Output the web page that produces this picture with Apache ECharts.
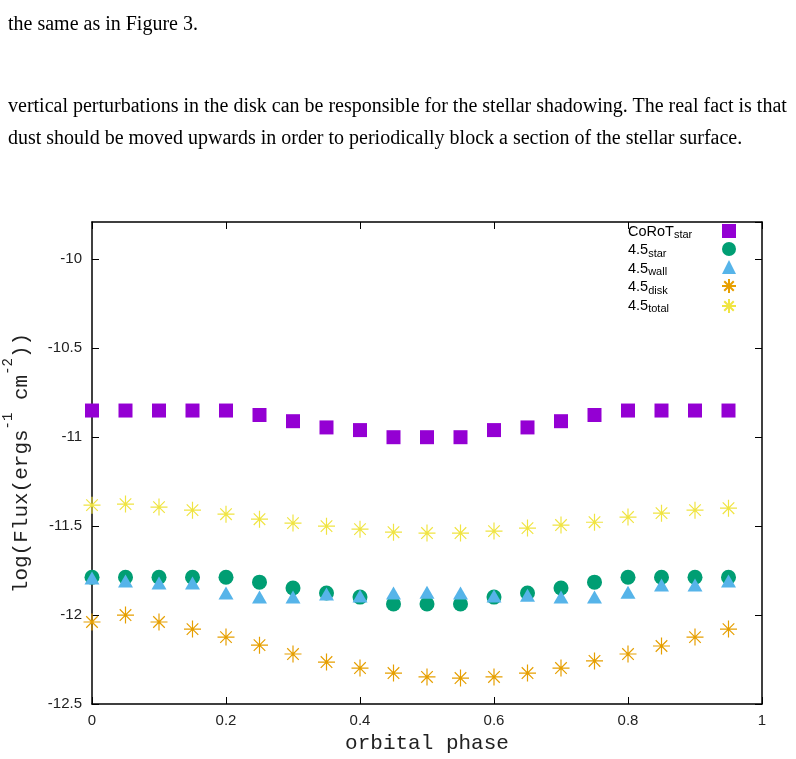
<!DOCTYPE html>
<html>
<head>
<meta charset="utf-8">
<script src="https://cdn.jsdelivr.net/npm/echarts@6/dist/echarts.min.js"></script>
<style>
  html, body { margin: 0; padding: 0; background: #fff; }
  #wrap { position: relative; width: 796px; height: 759px; overflow: hidden; }
  #chart { position: absolute; left: 0; top: 0; width: 796px; height: 759px; }
  .txt { position: absolute; left: 8px; font-family: 'Liberation Serif', 'Times New Roman', serif;
         font-size: 20px; color: #000; white-space: nowrap; line-height: 20px; }
</style>
</head>
<body>
<div id="wrap">
  <div id="chart"></div>
  <div class="txt" style="top:13px">the same as in Figure 3.</div>
  <div class="txt" style="top:95px">vertical perturbations in the disk can be responsible for the stellar shadowing. The real fact is that</div>
  <div class="txt" style="top:127px">dust should be moved upwards in order to periodically block a section of the stellar surface.</div>
</div>
<script>
document.addEventListener('DOMContentLoaded', function () {

    // orbital phase (x)
    const phase = [0, 0.05, 0.1, 0.15, 0.2, 0.25, 0.3, 0.35, 0.4, 0.45,
                   0.5, 0.55, 0.6, 0.65, 0.7, 0.75, 0.8, 0.85, 0.9, 0.95];

    // log flux values
    const corotStar = [-10.85, -10.85, -10.85, -10.85, -10.85, -10.875, -10.91, -10.945, -10.96, -11.0,
                       -11.0, -11.0, -10.96, -10.945, -10.91, -10.875, -10.85, -10.85, -10.85, -10.85];
    const star45 = [-11.787, -11.787, -11.787, -11.787, -11.787, -11.815, -11.848, -11.876, -11.899, -11.938,
                    -11.938, -11.938, -11.899, -11.876, -11.848, -11.815, -11.787, -11.787, -11.787, -11.787];
    const wall45 = [-11.792, -11.809, -11.82, -11.82, -11.876, -11.899, -11.899, -11.882, -11.893, -11.876,
                    -11.871, -11.876, -11.893, -11.888, -11.899, -11.899, -11.871, -11.831, -11.831, -11.809];
    const disk45 = [-12.039, -12.0, -12.039, -12.079, -12.124, -12.169, -12.219, -12.264, -12.298, -12.326,
                    -12.348, -12.354, -12.348, -12.326, -12.298, -12.258, -12.219, -12.174, -12.124, -12.079];
    const total45 = [-11.382, -11.376, -11.393, -11.41, -11.433, -11.461, -11.483, -11.5, -11.517, -11.534,
                     -11.539, -11.539, -11.528, -11.511, -11.494, -11.478, -11.449, -11.427, -11.41, -11.399];

    // legend labels: main text + subscript
    const legendMain = ['CoRoT', '4.5', '4.5', '4.5', '4.5'];
    const legendSub = ['star', 'star', 'wall', 'disk', 'total'];

    const xTicks = [0, 0.2, 0.4, 0.6, 0.8, 1];
    const yTicks = [-12.5, -12, -11.5, -11, -10.5, -10];

    const colors = ['#9400d3', '#009e73', '#56b4e9', '#e69f00', '#f0e442'];
    const asterisk = 'path://M0,5L10,5M5,0L5,10M1.6,1.6L8.4,8.4M1.6,8.4L8.4,1.6';

    const names = legendMain.map((m, i) => m + '_' + legendSub[i]);
    const values = [corotStar, star45, wall45, disk45, total45];
    const pairs = v => phase.map((p, i) => [p, v[i]]);

    const chart = echarts.init(document.getElementById('chart'));

    const sans = 'Liberation Sans, Arial, sans-serif';
    const mono = 'Liberation Mono, Courier New, monospace';

    // fresh objects for each axis (gnuplot style: inward ticks, mirrored)
    function axisLine() { return { show: true, onZero: false, lineStyle: { color: '#000', width: 1.5 } }; }
    function tickIn() { return { show: true, inside: true, length: 7, lineStyle: { color: '#000', width: 1 } }; }
    function tickFont() { return { fontFamily: sans, fontSize: 15, color: '#222' }; }

    const symbols = [
        { symbol: 'rect', symbolSize: 14 },
        { symbol: 'circle', symbolSize: 15 },
        { symbol: 'triangle', symbolSize: [15, 13] },
        { symbol: asterisk, symbolSize: 17 },
        { symbol: asterisk, symbolSize: 17 }
    ];

    const series = names.map((n, i) => ({
        name: n,
        type: 'scatter',
        data: pairs(values[i]),
        symbol: symbols[i].symbol,
        symbolSize: symbols[i].symbolSize,
        itemStyle: i >= 3
            ? { color: 'transparent', borderColor: colors[i], borderWidth: 1.2, opacity: 1 }
            : { color: colors[i], opacity: 1 },
        z: 2 + i
    }));

    chart.setOption({
        animation: false,
        grid: { left: 92, right: 34, top: 222, bottom: 55, outerBoundsMode: 'none', containLabel: false },
        legend: [{
            // text column
            orient: 'vertical',
            left: 622,
            top: 224,
            padding: 0,
            itemGap: 2,
            itemWidth: 0,
            itemHeight: 0,
            itemStyle: { opacity: 0 },
            data: names,
            formatter: function (n) {
                const i = names.indexOf(n);
                return '{m|' + legendMain[i] + '}{s|' + legendSub[i] + '}';
            },
            textStyle: {
                rich: {
                    m: { fontFamily: sans, fontSize: 14.5, lineHeight: 18, color: '#000' },
                    s: { fontFamily: sans, fontSize: 11, lineHeight: 10, verticalAlign: 'bottom', color: '#000' }
                }
            }
        }, {
            // symbol column
            orient: 'vertical',
            left: 721,
            top: 224,
            padding: 0,
            itemGap: 4,
            itemWidth: 14,
            itemHeight: 14,
            data: names,
            formatter: function () { return ''; },
            textStyle: { fontSize: 1 }
        }],
        xAxis: [{
            type: 'value',
            min: xTicks[0], max: xTicks[xTicks.length - 1], interval: 0.2,
            axisLine: axisLine(),
            axisTick: tickIn(),
            splitLine: { show: false },
            axisLabel: Object.assign({ margin: 9, formatter: v => String(+v.toFixed(1)) }, tickFont()),
            name: 'orbital phase',
            nameLocation: 'middle',
            nameGap: 28,
            nameTextStyle: { fontFamily: mono, fontSize: 21, color: '#222' }
        }, {
            type: 'value',
            position: 'top',
            min: xTicks[0], max: xTicks[xTicks.length - 1], interval: 0.2,
            axisLine: axisLine(),
            axisTick: tickIn(),
            splitLine: { show: false },
            axisLabel: { show: false }
        }],
        yAxis: [{
            type: 'value',
            min: yTicks[0], max: -9.79, interval: 0.5,
            axisLine: axisLine(),
            axisTick: tickIn(),
            splitLine: { show: false },
            axisLabel: Object.assign({ margin: 10, showMaxLabel: false }, tickFont()),
            name: '{t|log(Flux(ergs}{u|-1}{t| cm}{u|-2}{t|))}',
            nameLocation: 'middle',
            nameRotate: 90,
            nameGap: 51,
            nameTextStyle: {
                rich: {
                    t: { fontFamily: mono, fontSize: 21, lineHeight: 40, color: '#222' },
                    u: { fontFamily: mono, fontSize: 14, lineHeight: 14, verticalAlign: 'top', color: '#222' }
                }
            }
        }, {
            type: 'value',
            position: 'right',
            min: yTicks[0], max: -9.79, interval: 0.5,
            axisLine: axisLine(),
            axisTick: tickIn(),
            splitLine: { show: false },
            axisLabel: { show: false }
        }],
        series: series
    });

    window.addEventListener('resize', function () {
        chart.resize();
    });
});
</script>
</body>
</html>
